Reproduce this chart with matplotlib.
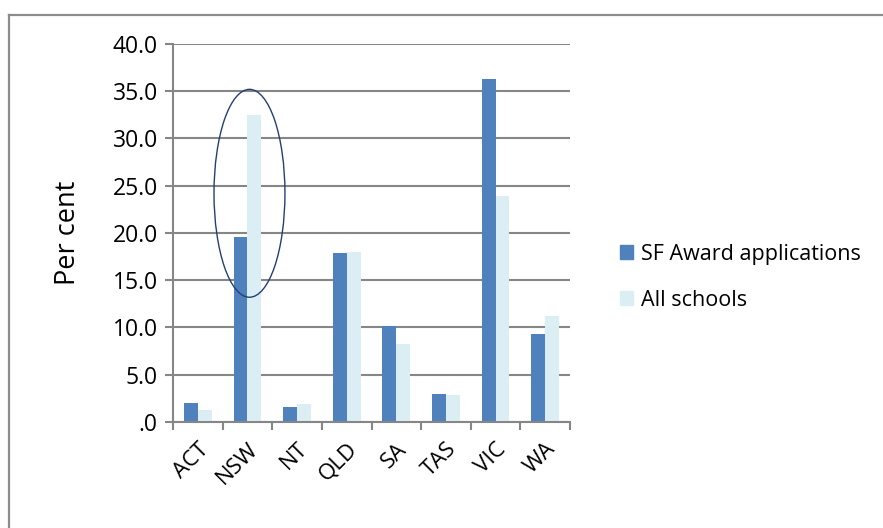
import numpy as np
import matplotlib.pyplot as plt
from matplotlib.patches import Ellipse, Patch
from matplotlib.lines import Line2D

# 州ごとの割合 (%)
states = ['ACT', 'NSW', 'NT', 'QLD', 'SA', 'TAS', 'VIC', 'WA']
sf_award = [2.0, 19.6, 1.6, 17.85, 10.2, 3.0, 36.3, 9.3]
all_schools = [1.3, 32.5, 1.9, 17.95, 8.25, 2.9, 23.9, 11.2]
yticks = [0, 5, 10, 15, 20, 25, 30, 35, 40]
ytick_labels = ['.0', '5.0', '10.0', '15.0', '20.0', '25.0', '30.0', '35.0', '40.0']

DARK = '#4F81BD'
LIGHT = '#DBEEF4'
GRID = '#868686'

plt.rcParams['font.family'] = ['Open Sans', 'DejaVu Sans']

fig = plt.figure(figsize=(8.83, 5.28), dpi=100)
ax = fig.add_axes([0.196, 0.2008, 0.4495, 0.7159])

# 外枠（上と左のみ見える）
fig.add_artist(Line2D([8.5 / 883, 1], [1 - 14.5 / 528] * 2, transform=fig.transFigure,
                      color='#8C8C8C', linewidth=1.6))
fig.add_artist(Line2D([8.5 / 883] * 2, [0, 1 - 14.5 / 528], transform=fig.transFigure,
                      color='#8C8C8C', linewidth=1.6))

x = np.arange(len(states))
w = 0.28
ax.bar(x - w / 2, sf_award, w, color=DARK, zorder=3, label='SF Award applications')
ax.bar(x + w / 2, all_schools, w, color=LIGHT, zorder=3, label='All schools')

# NSWを囲む楕円
ax.add_patch(Ellipse((1.04, 24.2), 1.43, 22.0, fill=False,
                     edgecolor='#243F73', linewidth=1.0, zorder=4))

ax.set_xlim(-0.5, len(states) - 0.5)
ax.set_ylim(0, 40)
ax.set_yticks(yticks)
ax.set_yticklabels(ytick_labels, fontsize=16.5)
ax.set_xticks(x)
ax.set_xticklabels(states, fontsize=16, rotation=45, ha='right',
                   rotation_mode='anchor')
ax.set_xticks(np.arange(-0.5, len(states)), minor=True)
ax.tick_params(axis='x', which='major', length=0, pad=12)
ax.tick_params(axis='x', which='minor', length=6, color=GRID, width=1.5)
ax.tick_params(axis='y', length=6, color=GRID, width=1.5, pad=5)

ax.grid(axis='y', color=GRID, linewidth=1.5, zorder=0)
for s in ['top', 'right']:
    ax.spines[s].set_visible(False)
for s in ['left', 'bottom']:
    ax.spines[s].set_color(GRID)
    ax.spines[s].set_linewidth(1.5)
ax.spines['bottom'].set_zorder(5)

ax.set_ylabel('Per cent', fontsize=19.5, labelpad=22)

handles = [Patch(color=DARK), Patch(color=LIGHT)]
fig.legend(handles, ['SF Award applications', 'All schools'],
           loc='center left', bbox_to_anchor=(0.68, 0.475), frameon=False,
           fontsize=15.5, handlelength=0.6, handleheight=0.6,
           handletextpad=0.4, labelspacing=1.15)

fig.savefig('out.png', dpi=100)
